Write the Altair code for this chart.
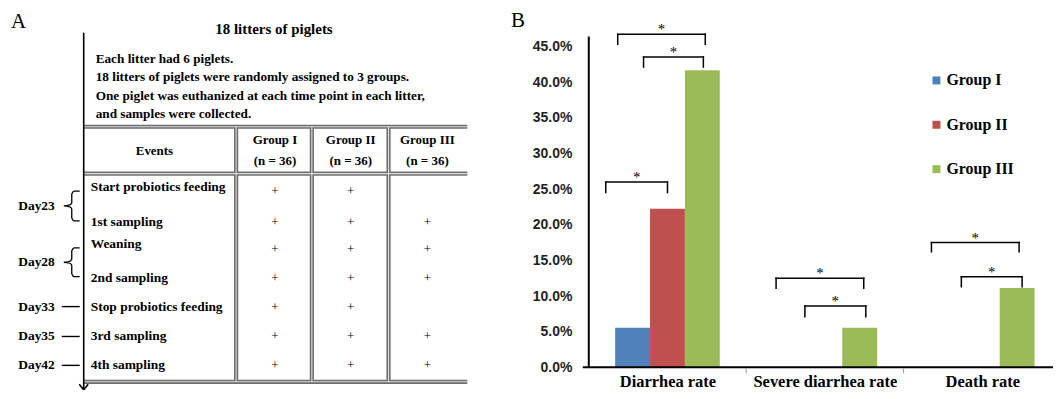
import altair as alt
import pandas as pd

# ---------------- Panel B data ----------------
categories = ["Diarrhea rate", "Severe diarrhea rate", "Death rate"]
groups = ["Group I", "Group II", "Group III"]
group_colors = ["#4F81BD", "#C0504D", "#9BBB59"]
diarrhea_rate = [0.0556, 0.2222, 0.4167]
severe_rate = [0.0, 0.0, 0.0556]
death_rate = [0.0, 0.0, 0.1111]
y_ticks = [0.0, 0.05, 0.10, 0.15, 0.20, 0.25, 0.30, 0.35, 0.40, 0.45]

# significance brackets (category index, left/right end as band offset, top level, leg bottom)
sig_category = [0, 0, 0, 1, 1, 2, 2]
sig_left = [-0.392, -0.316, -0.152, -0.310, -0.127, -0.323, -0.133]
sig_right = [0.000, 0.240, 0.228, 0.247, 0.260, 0.234, 0.253]
sig_top = [0.260, 0.467, 0.435, 0.125, 0.086, 0.175, 0.127]
sig_low = [0.245, 0.453, 0.421, 0.111, 0.071, 0.162, 0.113]
sig_label = ["*", "*", "*", "*", "*", "*", "*"]

# ---------------- Panel A data ----------------
panel_letters = ["A", "B"]
panel_a_title = "18 litters of piglets"
intro_lines = [
    "Each litter had 6 piglets.",
    "18 litters of piglets were randomly assigned to 3 groups.",
    "One piglet was euthanized at each time point in each litter,",
    "and samples were collected.",
]
header_events = "Events"
group_headers = ["Group I", "Group II", "Group III"]
group_sizes = ["(n = 36)", "(n = 36)", "(n = 36)"]
events = [
    "Start probiotics feeding",
    "1st sampling",
    "Weaning",
    "2nd sampling",
    "Stop probiotics feeding",
    "3rd sampling",
    "4th sampling",
]
group1_plus = [True, True, True, True, True, True, True]
group2_plus = [True, True, True, True, True, True, True]
group3_plus = [False, True, True, True, False, True, True]
day_names = ["Day23", "Day28", "Day33", "Day35", "Day42"]
day_first_event = [0, 2, 4, 5, 6]
day_last_event = [1, 3, 4, 5, 6]

# ---------------- Panel A layout (page pixels) ----------------
LETTER_POS = [(18.5, 21), (520, 20)]
TITLE_POS = (275, 28)
INTRO_X = 96
INTRO_Y = [58, 77, 95.5, 114]
EV_X = 91
EV_Y = [187, 222, 244, 278, 307, 337, 366]
PLUS_Y = [191, 222, 249, 278, 307, 337, 366]
COL_X = [276, 352, 429]
EVENTS_HDR_X = 155
HDR_Y = [140, 161]
DIV_X = [237, 313, 390]
LINE_X = 84
RIGHT_X = 469
H_LINES = [126.5, 173.5, 382.5]
TIMELINE_TOP = 32
TIMELINE_BOTTOM = 390.5

SERIF = "Liberation Serif"
SANS = "Liberation Sans"

A_W, A_H = 520, 383
xA = alt.Scale(domain=[8, 8 + A_W], nice=False, zero=False)
yA = alt.Scale(domain=[8, 8 + A_H], nice=False, zero=False, reverse=True)


def tx(field="x"):
    return alt.X(f"{field}:Q", scale=xA, axis=None)


def ty(field="y"):
    return alt.Y(f"{field}:Q", scale=yA, axis=None)


def text_layer(rows, size, weight="bold", align="left", font=SERIF):
    df = pd.DataFrame(rows, columns=["x", "y", "text"])
    return alt.Chart(df).mark_text(
        align=align, baseline="middle", fontSize=size, fontWeight=weight,
        font=font, color="black"
    ).encode(x=tx(), y=ty(), text="text:N")


# table double lines
seg_rows = []
for hy in H_LINES:
    seg_rows.append({"x": LINE_X, "x2": RIGHT_X, "y": hy, "y2": hy})
for dx in DIV_X:
    seg_rows.append({"x": dx, "x2": dx, "y": H_LINES[0], "y2": H_LINES[-1]})
seg_df = pd.DataFrame(seg_rows)
outer_lines = alt.Chart(seg_df).mark_rule(color="#6e6e6e", strokeWidth=4.2).encode(
    x=tx(), x2="x2:Q", y=ty(), y2="y2:Q")
inner_lines = alt.Chart(seg_df).mark_rule(color="#dcdcdc", strokeWidth=1.1).encode(
    x=tx(), x2="x2:Q", y=ty(), y2="y2:Q")

# timeline with arrow
tl_df = pd.DataFrame([
    {"x": LINE_X, "x2": LINE_X, "y": TIMELINE_TOP, "y2": TIMELINE_BOTTOM},
    {"x": LINE_X - 4.5, "x2": LINE_X, "y": TIMELINE_BOTTOM - 5.5, "y2": TIMELINE_BOTTOM},
    {"x": LINE_X + 4.5, "x2": LINE_X, "y": TIMELINE_BOTTOM - 5.5, "y2": TIMELINE_BOTTOM},
])
timeline = alt.Chart(tl_df).mark_rule(color="black", strokeWidth=1.6).encode(
    x=tx(), x2="x2:Q", y=ty(), y2="y2:Q")

# braces and dashes for days
brace_pts = []
dash_rows = []
day_text = []
for i, (name, f, l) in enumerate(zip(day_names, day_first_event, day_last_event)):
    if f != l:
        t = EV_Y[f] + 4
        b = EV_Y[l] - 1
        m = (t + b) / 2
        pts = [(80, t), (74.5, t), (72, t + 3), (72, m - 3), (70, m - 1), (64, m),
               (70, m + 1), (72, m + 3), (72, b - 3), (74.5, b), (80, b)]
        for k, (px, py) in enumerate(pts):
            brace_pts.append({"x": px, "y": py, "id": i, "k": k})
        day_text.append((55, m, name))
    else:
        dash_rows.append({"x": 62, "x2": 80, "y": EV_Y[f], "y2": EV_Y[f]})
        day_text.append((55, EV_Y[f], name))

braces = alt.Chart(pd.DataFrame(brace_pts)).mark_line(
    color="black", strokeWidth=1.3, interpolate="monotone").encode(
    x=tx(), y=ty(), detail="id:N", order="k:Q")
dashes = alt.Chart(pd.DataFrame(dash_rows)).mark_rule(color="black", strokeWidth=1.4).encode(
    x=tx(), x2="x2:Q", y=ty(), y2="y2:Q")

letters = text_layer([(p[0], p[1], s) for p, s in zip(LETTER_POS, panel_letters)], 21, weight="normal", align="center")
title_a = text_layer([(TITLE_POS[0], TITLE_POS[1], panel_a_title)], 15, align="center")
intro = text_layer([(INTRO_X, y, s) for y, s in zip(INTRO_Y, intro_lines)], 13.3)
hdr_rows = [(EVENTS_HDR_X, (HDR_Y[0] + HDR_Y[1]) / 2, header_events)]
for cx, g, n in zip(COL_X, group_headers, group_sizes):
    hdr_rows.append((cx, HDR_Y[0], g))
    hdr_rows.append((cx, HDR_Y[1], n))
header = text_layer(hdr_rows, 13, align="center")
event_txt = text_layer([(EV_X, y, e) for y, e in zip(EV_Y, events)], 13.5)
plus_rows = []
for cx, marks in zip(COL_X, [group1_plus, group2_plus, group3_plus]):
    for y, mk in zip(PLUS_Y, marks):
        if mk:
            plus_rows.append((cx, y, "+"))
plus = text_layer(plus_rows, 13, weight="normal", align="center")
days = text_layer(day_text, 13.5, align="right")

panel_a = alt.layer(
    outer_lines, inner_lines, timeline, braces, dashes,
    letters, title_a, intro, header, event_txt, plus, days
).properties(width=A_W, height=A_H)

# ---------------- Panel B ----------------
BAR_W = 0.2215
B_W, B_H = 466, 360
BAND_PX = 158
xs = alt.Scale(domain=[0, B_W / BAND_PX], nice=False, zero=False)
ys = alt.Scale(domain=[0, 0.5028], nice=False, zero=False)

label_expr = "datum.value < 1 ? '%s' : datum.value < 2 ? '%s' : '%s'" % tuple(categories)
x_axis = alt.Axis(values=[0.5, 1.5, 2.5], labelExpr=label_expr, title=None, domain=False,
                  ticks=False, grid=False, labelFont=SERIF, labelFontWeight="bold",
                  labelFontSize=16.5, labelColor="black", labelPadding=6)
y_axis = alt.Axis(values=y_ticks, format=".1%", title=None, domain=False, ticks=False,
                  grid=False, labelFont=SANS, labelFontWeight="bold", labelFontSize=14,
                  labelColor="#222222", labelPadding=17, minExtent=54, maxExtent=54)


def bx(field):
    return alt.X(f"{field}:Q", scale=xs, axis=x_axis)


def by(field):
    return alt.Y(f"{field}:Q", scale=ys, axis=y_axis)


bar_rows = []
for ci, vals in enumerate([diarrhea_rate, severe_rate, death_rate]):
    for gi, v in enumerate(vals):
        bar_rows.append({"category": categories[ci], "cat": ci, "group": groups[gi], "g": gi, "value": v})
bars_df = pd.DataFrame(bar_rows)

bars = alt.Chart(bars_df).transform_calculate(
    x0=f"datum.cat + 0.5 + (datum.g - 1) * {BAR_W} - {BAR_W / 2}",
    x1=f"datum.cat + 0.5 + (datum.g - 1) * {BAR_W} + {BAR_W / 2}",
    base="0",
).mark_rect(strokeWidth=0).encode(
    x=bx("x0"),
    x2="x1:Q",
    y=by("value"),
    y2="base:Q",
    color=alt.Color("group:N", scale=alt.Scale(domain=groups, range=group_colors),
                    legend=alt.Legend(title=None, orient="none", legendX=924, legendY=64,
                                      symbolType="square", symbolSize=64, symbolStrokeWidth=0,
                                      labelFont=SERIF, labelFontWeight="bold", labelFontSize=16,
                                      labelColor="black", rowPadding=28.5, padding=0,
                                      labelOffset=2, direction="vertical")),
)

yline = alt.Chart(pd.DataFrame({"x": [0], "y0": [0.0], "y1": [0.464]})).mark_rule(
    color="black", strokeWidth=2).encode(x=bx("x"), y=by("y0"), y2="y1:Q")
xline = alt.Chart(pd.DataFrame({"y": [0.0]})).mark_rule(color="black", strokeWidth=2).encode(
    x=alt.value(-6), x2=alt.value(B_W), y=by("y"))
btick = alt.Chart(pd.DataFrame({"b": [1, 2]})).mark_rule(color="#999999", strokeWidth=1).encode(
    x=bx("b"), y=alt.value(B_H + 1), y2=alt.value(B_H + 6))

sig_df = pd.DataFrame({"cat": sig_category, "left": sig_left, "right": sig_right,
                       "top": sig_top, "low": sig_low, "label": sig_label})
sig_base = alt.Chart(sig_df).transform_calculate(
    xl="datum.cat + 0.5 + datum.left",
    xr="datum.cat + 0.5 + datum.right",
    xm="datum.cat + 0.5 + (datum.left + datum.right) / 2",
)
br_style = dict(color="black", strokeWidth=1.5, strokeCap="square")
br_h = sig_base.mark_rule(**br_style).encode(x=bx("xl"), x2="xr:Q", y=by("top"))
br_l = sig_base.mark_rule(**br_style).encode(x=bx("xl"), y=by("top"), y2="low:Q")
br_r = sig_base.mark_rule(**br_style).encode(x=bx("xr"), y=by("top"), y2="low:Q")
stars = sig_base.mark_text(font=SERIF, fontWeight="normal", fontSize=15, baseline="middle",
                           align="center", dy=-5, color="black").encode(
    x=bx("xm"), y=by("top"), text="label:N")

panel_b = alt.layer(bars, yline, xline, btick, br_h, br_l, br_r, stars).properties(
    width=B_W, height=B_H)

chart = alt.hconcat(panel_a, panel_b, spacing=6).properties(
    padding=0, background="white"
).configure_view(stroke=None)

chart.save("out.html", embed_options={"renderer": "svg", "actions": False})
